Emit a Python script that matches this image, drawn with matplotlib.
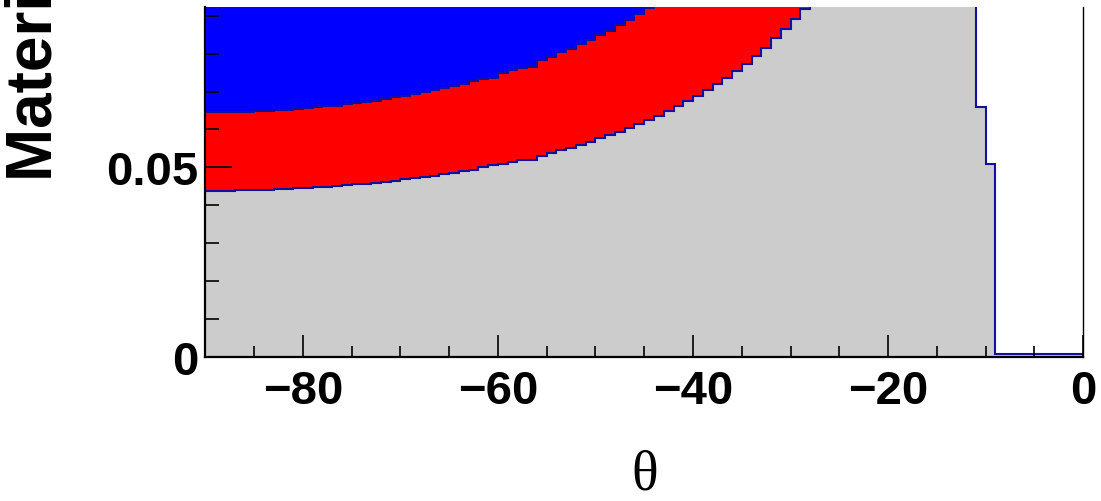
import numpy as np
import matplotlib.pyplot as plt

# theta bins, 1 degree wide, from -90 to 0
theta_edges = np.arange(-90, 1, 1)

# material per layer in each bin (stacked: grey at the bottom, red, blue on top)
grey_layer = [
    0.0438, 0.0438, 0.0438, 0.0439, 0.0439, 0.0440, 0.0441, 0.0442, 0.0443, 0.0444,
    0.0445, 0.0447, 0.0449, 0.0450, 0.0452, 0.0455, 0.0457, 0.0459, 0.0462, 0.0465,
    0.0468, 0.0471, 0.0474, 0.0478, 0.0481, 0.0485, 0.0489, 0.0494, 0.0500, 0.0505,
    0.0508, 0.0513, 0.0518, 0.0518, 0.0531, 0.0538, 0.0545, 0.0552, 0.0560, 0.0568,
    0.0576, 0.0585, 0.0594, 0.0604, 0.0614, 0.0625, 0.0636, 0.0648, 0.0661, 0.0674,
    0.0689, 0.0704, 0.0720, 0.0736, 0.0754, 0.0773, 0.0794, 0.0815, 0.0840, 0.0866,
    0.0892, 0.0919,
    # above the frame
    0.0949, 0.0982, 0.1017, 0.1056, 0.1098, 0.1145, 0.1195, 0.1251, 0.1312, 0.1380,
    0.1457, 0.1542, 0.1639, 0.1749, 0.1876, 0.2024, 0.2197,
    0.0659, 0.0508,
    0.0006, 0.0006, 0.0006, 0.0006, 0.0006, 0.0006, 0.0006, 0.0006, 0.0006,
]
red_layer = [
    0.0207, 0.0207, 0.0207, 0.0207, 0.0208, 0.0208, 0.0208, 0.0209, 0.0209, 0.0210,
    0.0211, 0.0211, 0.0212, 0.0213, 0.0214, 0.0215, 0.0216, 0.0217, 0.0218, 0.0220,
    0.0221, 0.0222, 0.0224, 0.0226, 0.0227, 0.0229, 0.0231, 0.0233, 0.0232, 0.0230,
    0.0240, 0.0243, 0.0245, 0.0248, 0.0251, 0.0254, 0.0258, 0.0261, 0.0265, 0.0268,
    0.0272, 0.0276, 0.0281, 0.0285, 0.0290, 0.0295, 0.0301, 0.0306, 0.0312, 0.0319,
    0.0325, 0.0333, 0.0340, 0.0348, 0.0356, 0.0365, 0.0375, 0.0385, 0.0396, 0.0408,
    0.0420, 0.0434,
    0.0448, 0.0464, 0.0481, 0.0499, 0.0519, 0.0541, 0.0565, 0.0591, 0.0620, 0.0652,
    0.0688, 0.0729, 0.0775, 0.0827, 0.0887, 0.0956, 0.1038,
    0.0, 0.0,
    0.0, 0.0, 0.0, 0.0, 0.0, 0.0, 0.0, 0.0, 0.0,
]
# top of the blue layer lies outside the frame
blue_layer = [0.04] * 79 + [0.0] * 11

x_ticks = [-80, -60, -40, -20, 0]
y_ticks = [0, 0.05]

grey = np.array(grey_layer)
red_top = grey + np.array(red_layer)
blue_top = red_top + np.array(blue_layer)

plt.rcParams['font.family'] = ['Liberation Sans', 'DejaVu Sans']
plt.rcParams['font.weight'] = 'bold'

fig = plt.figure(figsize=(11.01, 5.02), dpi=100)
ax = fig.add_axes([0.1866, 0.2875, 0.7971, 0.6965])

ax.stairs(blue_top, theta_edges, fill=True, color='#0000ff', lw=0)
ax.stairs(red_top, theta_edges, fill=True, color='#ff0000', lw=0)
ax.stairs(grey, theta_edges, fill=True, color='#cccccc', lw=0)
ax.stairs(red_top[:79], theta_edges[:80], baseline=None, color='#11119a', lw=1.5)
ax.stairs(grey, theta_edges, baseline=None, color='#11119a', lw=1.5)

ax.set_xlim(-90, 0)
ax.set_ylim(0, 0.0923)
ax.set_xticks(x_ticks)
ax.set_xticks(np.arange(-85, 0, 5), minor=True)
ax.set_yticks(y_ticks)
ax.set_yticklabels(['0', '0.05'])
ax.set_yticks(np.arange(0.01, 0.0923, 0.01), minor=True)

ax.tick_params(axis='both', which='both', direction='in', width=1.2,
               labelsize=34, top=False, right=False, color='black')
ax.tick_params(axis='x', which='major', length=16, pad=9)
ax.tick_params(axis='x', which='minor', length=8)
ax.tick_params(axis='y', which='major', length=19.5, pad=5)
ax.tick_params(axis='y', which='minor', length=10)

ax.spines['top'].set_visible(False)
for s in ['left', 'bottom']:
    ax.spines[s].set_linewidth(1.6)
ax.spines['right'].set_linewidth(1.0)

fig.text(645 / 1101, (502 - 476) / 502, '\u03b8', family='Liberation Serif',
         fontweight='normal', fontsize=40, ha='center', va='center')
# y title is cut at the top edge, as in the original canvas
fig.text(52 / 1101, (502 - 181) / 502, 'Material budget', fontsize=46,
         fontweight='bold', rotation=90, rotation_mode='anchor',
         ha='left', va='baseline')

fig.savefig('out.png', dpi=100)
